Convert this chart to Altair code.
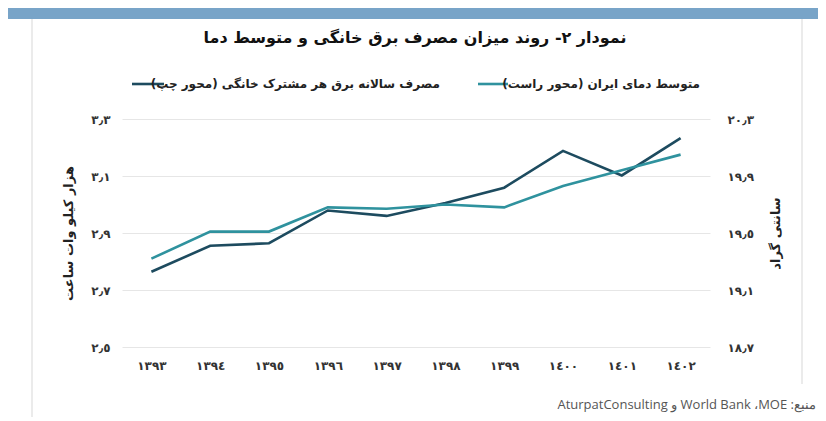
import altair as alt
import pandas as pd

# ---------------- data ----------------
years = ["١٣٩٣", "١٣٩٤", "١٣٩٥", "١٣٩٦", "١٣٩٧", "١٣٩٨", "١٣٩٩", "١٤٠٠", "١٤٠١", "١٤٠٢"]
consumption = [2.764, 2.855, 2.864, 2.979, 2.960, 3.005, 3.059, 3.188, 3.102, 3.233]
temperature = [19.32, 19.51, 19.51, 19.68, 19.67, 19.70, 19.68, 19.83, 19.94, 20.05]

left_ticks = [2.5, 2.7, 2.9, 3.1, 3.3]
left_tick_keys = ["2.5", "2.7", "2.9", "3.1", "3.3"]
left_tick_labels = ["٢٫٥", "٢٫٧", "٢٫٩", "٣٫١", "٣٫٣"]
right_ticks = [18.7, 19.1, 19.5, 19.9, 20.3]
right_tick_keys = ["18.7", "19.1", "19.5", "19.9", "20.3"]
right_tick_labels = ["١٨٫٧", "١٩٫١", "١٩٫٥", "١٩٫٩", "٢٠٫٣"]

RLE, PDF, RLM = "\u202b", "\u202c", "\u200f"
title_text = RLE + "نمودار ۲-  روند میزان مصرف برق خانگی و متوسط دما" + PDF
legend_dark = RLE + "مصرف سالانه برق هر مشترک خانگی (محور چپ)" + PDF
legend_teal = RLE + "متوسط دمای ایران (محور راست)" + PDF
left_title = "هزار کیلو وات ساعت"
right_title = "سانتی گراد"
source_text = RLE + "منبع: MOE" + RLM + "، World Bank" + RLM + " و AturpatConsulting" + PDF

DARK = "#1d4b5f"
TEAL = "#2f929e"
FONT = "DejaVu Sans"

df = pd.DataFrame({"year": years, "consumption": consumption, "temperature": temperature})
one = pd.DataFrame({"k": [0]})


def label_expr(keys, labels):
    k = "[" + ",".join(f"'{x}'" for x in keys) + "]"
    l = "[" + ",".join(f"'{x}'" for x in labels) + "]"
    return f"{l}[indexof({k}, format(datum.value, '.1f'))]"


x_enc = alt.X(
    "year:N", sort=years,
    scale=alt.Scale(type="point", padding=0.5),
    axis=alt.Axis(title=None, labelAngle=0, domain=False, ticks=False, grid=False,
                  labelPadding=13, labelFont=FONT, labelFontSize=12,
                  labelFontWeight="bold", labelColor="#333333"),
)

line_dark = alt.Chart(df).mark_line(color=DARK, strokeWidth=2.6).encode(
    x=x_enc,
    y=alt.Y("consumption:Q",
            scale=alt.Scale(domain=[2.5, 3.3], nice=False, zero=False),
            axis=alt.Axis(orient="left", values=left_ticks,
                          labelExpr=label_expr(left_tick_keys, left_tick_labels),
                          domain=False, ticks=False, grid=True, gridColor="#e6e6e6",
                          labelPadding=12, labelFont=FONT, labelFontSize=12,
                          labelFontWeight="bold", labelColor="#333333",
                          title=left_title, titleFont=FONT, titleFontSize=13,
                          titleFontWeight="bold", titleColor="#222222",
                          titleAngle=-90, titleAlign="center", titleBaseline="middle",
                          titleX=-54, titleY=114)),
)

line_teal = alt.Chart(df).mark_line(color=TEAL, strokeWidth=2.6).encode(
    x=x_enc,
    y=alt.Y("temperature:Q",
            scale=alt.Scale(domain=[18.7, 20.3], nice=False, zero=False),
            axis=alt.Axis(orient="right", values=right_ticks,
                          labelExpr=label_expr(right_tick_keys, right_tick_labels),
                          domain=False, ticks=False, grid=False,
                          labelPadding=17, labelFont=FONT, labelFontSize=12,
                          labelFontWeight="bold", labelColor="#333333",
                          title=right_title, titleFont=FONT, titleFontSize=13,
                          titleFontWeight="bold", titleColor="#222222",
                          titleAngle=-90, titleAlign="center", titleBaseline="middle",
                          titleX=65, titleY=114)),
)

# ------------- decorations -------------
band = alt.Chart(one).mark_rect(color="#78a4c8").encode(
    x=alt.value(-114), x2=alt.value(696), y=alt.value(-111), y2=alt.value(-100))

border_left = alt.Chart(one).mark_rule(color="#ebebeb", strokeWidth=2).encode(
    x=alt.value(-90), y=alt.value(-100), y2=alt.value(299))
border_right = alt.Chart(one).mark_rule(color="#ebebeb", strokeWidth=2).encode(
    x=alt.value(680), y=alt.value(-100), y2=alt.value(265))
border_bottom = alt.Chart(one).mark_rule(color="#ebebeb", strokeWidth=2).encode(
    x=alt.value(-90), x2=alt.value(700), y=alt.value(299))

title = alt.Chart(one).mark_text(font=FONT, fontSize=16, fontWeight="bold",
                                 color="#111111", align="center", baseline="middle").encode(
    x=alt.value(293), y=alt.value(-81), text=alt.value(title_text))

leg_rule_teal = alt.Chart(one).mark_rule(color=TEAL, strokeWidth=2.6).encode(
    x=alt.value(356), x2=alt.value(386), y=alt.value(-35))
leg_text_teal = alt.Chart(one).mark_text(font=FONT, fontSize=12, fontWeight="bold",
                                         color="#222222", align="right", baseline="middle").encode(
    x=alt.value(578), y=alt.value(-35), text=alt.value(legend_teal))
leg_rule_dark = alt.Chart(one).mark_rule(color=DARK, strokeWidth=2.6).encode(
    x=alt.value(10), x2=alt.value(42), y=alt.value(-35))
leg_text_dark = alt.Chart(one).mark_text(font=FONT, fontSize=12, fontWeight="bold",
                                         color="#222222", align="right", baseline="middle").encode(
    x=alt.value(318), y=alt.value(-35), text=alt.value(legend_dark))

source = alt.Chart(one).mark_text(font="Open Sans", fontSize=13, color="#555555",
                                  align="right", baseline="middle").encode(
    x=alt.value(694), y=alt.value(286), text=alt.value(source_text))

chart = alt.layer(
    band, border_left, border_right, border_bottom,
    line_dark, line_teal,
    title, leg_rule_teal, leg_text_teal, leg_rule_dark, leg_text_dark, source,
).resolve_scale(y="independent").properties(
    width=588, height=228,
    autosize=alt.AutoSizeParams(type="none"),
    padding={"left": 114, "top": 111, "right": 108, "bottom": 70},
    background="white",
).configure_view(stroke=None)

chart.save("out.html", embed_options={"renderer": "svg", "actions": False})
